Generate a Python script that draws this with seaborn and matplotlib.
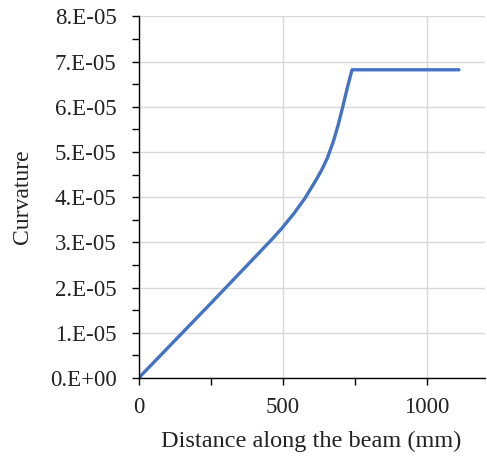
import numpy as np
import pandas as pd
import matplotlib
matplotlib.use('Agg')
import matplotlib.pyplot as plt
import seaborn as sns
from matplotlib.ticker import FuncFormatter, MultipleLocator

# distance along the beam (mm) and curvature
distance = [0, 250, 461, 495, 536, 576, 617, 636, 654, 675, 692, 707, 721, 733, 740, 1111]
curvature = [0, 1.65e-5, 3.06e-5, 3.30e-5, 3.62e-5, 3.97e-5, 4.40e-5, 4.62e-5, 4.86e-5,
             5.23e-5, 5.60e-5, 5.98e-5, 6.35e-5, 6.65e-5, 6.82e-5, 6.82e-5]

df = pd.DataFrame({'Distance': distance, 'Curvature': curvature})

sns.set_theme(style='white')
plt.rcParams['font.family'] = ['Liberation Serif', 'DejaVu Serif']

fig = plt.figure(figsize=(4.87, 4.58), dpi=100)
ax = fig.add_axes([0.285, 0.175, 0.71, 0.789])

sns.lineplot(data=df, x='Distance', y='Curvature', sort=False, color='#4472C4',
             linewidth=2.4, ax=ax)

ax.set_xlim(0, 1200)
ax.set_ylim(0, 8e-5)
ax.set_xticks([0, 500, 1000])
ax.xaxis.set_minor_locator(MultipleLocator(250))
ax.yaxis.set_major_locator(MultipleLocator(1e-5))
ax.yaxis.set_minor_locator(MultipleLocator(0.5e-5))
ax.yaxis.set_major_formatter(FuncFormatter(lambda v, p: format(round(v, 7), '#.0E')))
ax.yaxis.get_offset_text().set_visible(False)

ax.grid(True, which='major', color='#D9D9D9', linewidth=1)
ax.set_axisbelow(True)
for s in ['top', 'right']:
    ax.spines[s].set_visible(False)
for s in ['left', 'bottom']:
    ax.spines[s].set_color('black')
    ax.spines[s].set_linewidth(1)

ax.tick_params(which='both', direction='out', length=5, width=1, color='black',
               labelsize=16.5, labelcolor='#222222', bottom=True, left=True)
ax.tick_params(axis='x', pad=9)
ax.tick_params(axis='y', pad=11)
ax.set_xlabel('Distance along the beam (mm)', fontsize=17.5, color='#222222', labelpad=9)
ax.set_ylabel('Curvature', fontsize=17, color='#222222', labelpad=12)

fig.savefig('out.png', dpi=100)
